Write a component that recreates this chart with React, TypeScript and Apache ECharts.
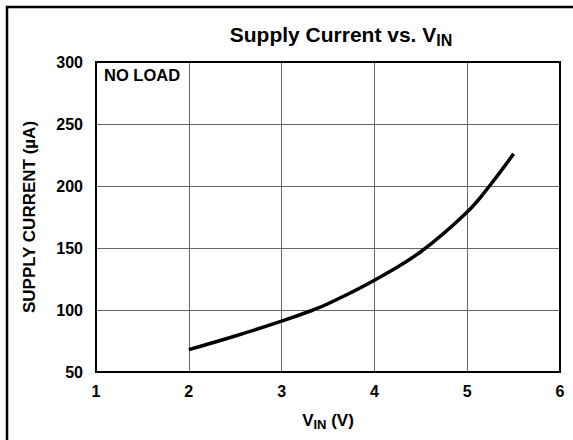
import React, { useEffect, useRef } from "react";
import * as echarts from "echarts";

const vin: number[] = [2, 2.5, 3, 3.34, 3.5, 4, 4.5, 5, 5.25, 5.5];
const supplyCurrent: number[] = [68, 79, 91, 100, 105, 124, 147, 179, 201, 226];
const xTicks: number[] = [1, 2, 3, 4, 5, 6];
const yTicks: number[] = [50, 100, 150, 200, 250, 300];

const FONT = "'Liberation Sans', Arial, Helvetica, sans-serif";

export default function App() {
  const ref = useRef<HTMLDivElement>(null);
  useEffect(() => {
    document.body.style.margin = "0";
    if (!ref.current) return;
    const chart = echarts.init(ref.current, undefined, { renderer: "svg" });
    const data = vin.map((v, i) => [v, supplyCurrent[i]]);
    chart.setOption({
      animation: false,
      backgroundColor: "#ffffff",
      textStyle: { fontFamily: FONT },
      title: {
        text: "{a|Supply Current vs. V}{s|IN}",
        left: 336,
        top: 16,
        textAlign: "center",
        textStyle: {
          rich: {
            a: { fontFamily: FONT, fontWeight: "bold", fontSize: 21, color: "#000" },
            s: { fontFamily: FONT, fontWeight: "bold", fontSize: 16, color: "#000", padding: [11, 0, 0, 0] },
          },
        },
      },
      graphic: [
        {
          type: "rect",
          shape: { x: 7, y: 7, width: 620, height: 500 },
          style: { fill: "none", stroke: "#000", lineWidth: 2.5 },
          silent: true,
        },
        {
          type: "text",
          x: 104,
          y: 66,
          style: { text: "NO LOAD", font: `bold 16.5px ${FONT}`, fill: "#000" },
          silent: true,
        },
      ],
      grid: {
        left: 96,
        right: 13,
        top: 62,
        bottom: 68,
        show: true,
        borderColor: "#000",
        borderWidth: 2,
        backgroundColor: "transparent",
        z: 5,
      },
      xAxis: {
        type: "value",
        min: xTicks[0],
        max: xTicks[xTicks.length - 1],
        interval: 1,
        name: "{a|V}{s|IN}{a| (V)}",
        nameLocation: "middle",
        nameGap: 37,
        nameTextStyle: {
          rich: {
            a: { fontFamily: FONT, fontWeight: "bold", fontSize: 17, color: "#000" },
            s: { fontFamily: FONT, fontWeight: "bold", fontSize: 13, color: "#000", padding: [9, 0, 0, 0] },
          },
        },
        axisLine: { show: false },
        axisTick: { show: false },
        axisLabel: { margin: 11, fontSize: 16, fontWeight: "bold", color: "#000", fontFamily: FONT },
        splitLine: { show: true, lineStyle: { color: "#666", width: 1 } },
      },
      yAxis: {
        type: "value",
        min: yTicks[0],
        max: yTicks[yTicks.length - 1],
        interval: 50,
        name: "SUPPLY CURRENT (\u00b5A)",
        nameLocation: "middle",
        nameGap: 58,
        nameTextStyle: { fontFamily: FONT, fontWeight: "bold", fontSize: 17, color: "#000" },
        axisLine: { show: false },
        axisTick: { show: false },
        axisLabel: { margin: 13, fontSize: 16, fontWeight: "bold", color: "#000", fontFamily: FONT },
        splitLine: { show: true, lineStyle: { color: "#666", width: 1 } },
      },
      series: [
        {
          type: "line",
          data,
          smooth: 0.4,
          showSymbol: false,
          lineStyle: { color: "#000", width: 3.5 },
          z: 3,
        },
      ],
    });
    return () => chart.dispose();
  }, []);
  return <div ref={ref} style={{ width: 573, height: 440 }} />;
}
